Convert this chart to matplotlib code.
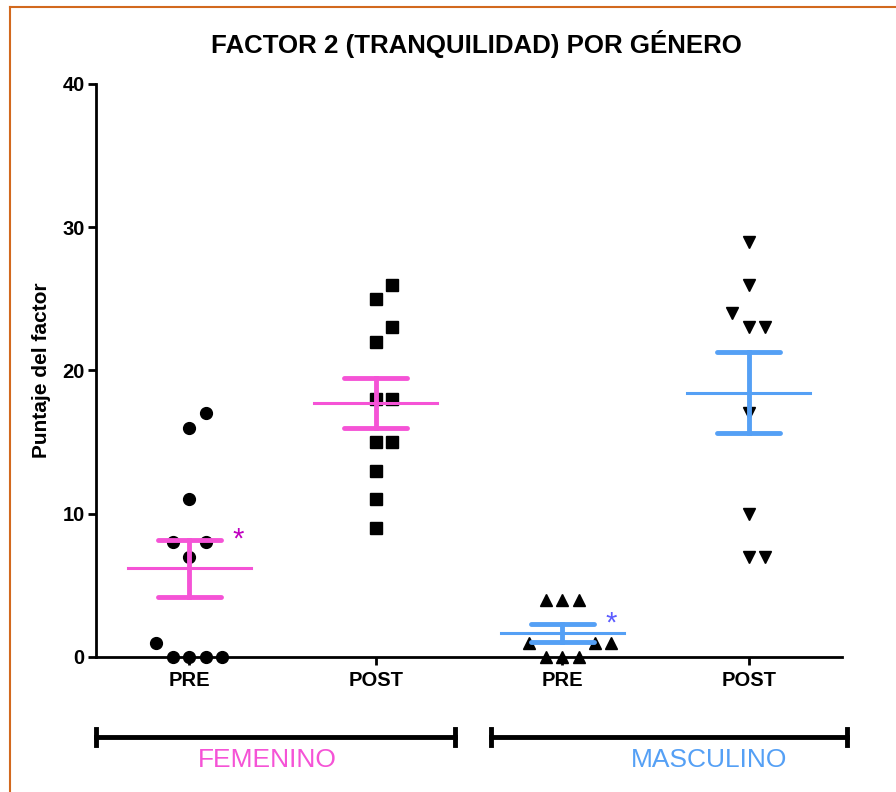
import numpy as np
import matplotlib
matplotlib.use("Agg")
import matplotlib.pyplot as plt
import matplotlib.transforms as mtransforms
from matplotlib.lines import Line2D

plt.rcParams['font.family'] = ['Liberation Sans', 'DejaVu Sans']

# data
groups = ['PRE', 'POST', 'PRE', 'POST']
fem_pre = [17, 16, 11, 8, 8, 7, 1, 0, 0, 0, 0]
fem_post = [26, 25, 23, 22, 18, 18, 15, 15, 13, 11, 9]
masc_pre = [4, 4, 4, 1, 1, 1, 0, 0, 0]
masc_post = [29, 26, 24, 23, 23, 17, 10, 7, 7]
series = [fem_pre, fem_post, masc_pre, masc_post]
markers = ['o', 's', '^', 'v']
bar_colors = ['#F553D6', '#F553D6', '#55A0F5', '#55A0F5']
sexes = ['FEMENINO', 'MASCULINO']
sex_colors = ['#F553D6', '#55A0F5']
star_colors = ['#C000C0', '#5C5CFF']


def swarm_offsets(vals, step=0.088, gap=1.0):
    # simple greedy scatter: place ascending, nearest free slot to the centre
    order = np.argsort(vals, kind='stable')
    slots = [0, 1, -1, 2, -2, 3, -3, 4, -4]
    placed = []
    offs = np.zeros(len(vals))
    for i in order:
        v = vals[i]
        for s in slots:
            if all(not (ps == s and abs(pv - v) <= gap) for pv, ps in placed):
                placed.append((v, s))
                offs[i] = s * step
                break
    return offs


fig = plt.figure(figsize=(8.96, 7.92), dpi=100)
ax = fig.add_axes([0.1071, 0.1705, 0.8326, 0.7235])

for k, vals in enumerate(series):
    vals = np.array(vals, dtype=float)
    xs = k + swarm_offsets(vals)
    ax.plot(xs, vals, linestyle='none', marker=markers[k], color='black',
            markersize=8.5 if markers[k] != 's' else 8, clip_on=False, zorder=3)
    m = vals.mean()
    sem = vals.std(ddof=1) / np.sqrt(len(vals))
    c = bar_colors[k]
    ax.plot([k - 0.33, k + 0.33], [m, m], color=c, lw=2.2, zorder=4)
    ax.plot([k, k], [m - sem, m + sem], color=c, lw=3.5, zorder=4)
    for y in (m - sem, m + sem):
        ax.plot([k - 0.17, k + 0.17], [y, y], color=c, lw=3.5,
                solid_capstyle='round', zorder=4)
    if k in (0, 2):
        ax.text(k + 0.26, m + sem - 0.9, '*', color=star_colors[k // 2],
                fontsize=21, ha='center', va='bottom')

ax.set_xlim(-0.5, 3.5)
ax.set_ylim(0, 40)
ax.set_yticks([0, 10, 20, 30, 40])
ax.set_xticks(range(len(groups)))
ax.set_xticklabels(groups)
for sp in ['top', 'right']:
    ax.spines[sp].set_visible(False)
for sp in ['left', 'bottom']:
    ax.spines[sp].set_linewidth(2)
ax.tick_params(axis='both', width=2, length=6, labelsize=14.5, pad=2)
ax.tick_params(axis='x', pad=4, labelsize=14.5)
for lab in ax.get_xticklabels() + ax.get_yticklabels():
    lab.set_fontweight('bold')
ax.set_ylabel('Puntaje del factor', fontsize=15, fontweight='bold', labelpad=8)

fig.text(0.532, 0.944, 'FACTOR 2 (TRANQUILIDAD) POR GÉNERO', ha='center',
         va='center', fontsize=18.6, fontweight='bold')

# group brackets under the axis
trans = mtransforms.blended_transform_factory(ax.transData, fig.transFigure)
bar_spans = [(-0.5, 1.425), (1.618, 3.527)]
label_x = [0.417, 2.787]
for (x0, x1), name, col, lx in zip(bar_spans, sexes, sex_colors, label_x):
    yb = 1 - 737 / 792
    fig.add_artist(Line2D([x0, x1], [yb, yb], transform=trans, color='black', lw=3.5))
    for xe in (x0, x1):
        fig.add_artist(Line2D([xe, xe], [yb - 0.0095, yb + 0.0095], transform=trans,
                              color='black', lw=3.5))
    fig.text(lx, 1 - 760 / 792, name, transform=trans, ha='center', va='center',
             color=col, fontsize=19)

# orange frame around the figure
frame = '#D2691E'
fig.add_artist(Line2D([10 / 896, 1], [1 - 7 / 792, 1 - 7 / 792], transform=fig.transFigure,
                      color=frame, lw=1.5))
fig.add_artist(Line2D([10 / 896, 10 / 896], [0, 1 - 7 / 792], transform=fig.transFigure,
                      color=frame, lw=1.5))

fig.savefig('out.png', dpi=100)
